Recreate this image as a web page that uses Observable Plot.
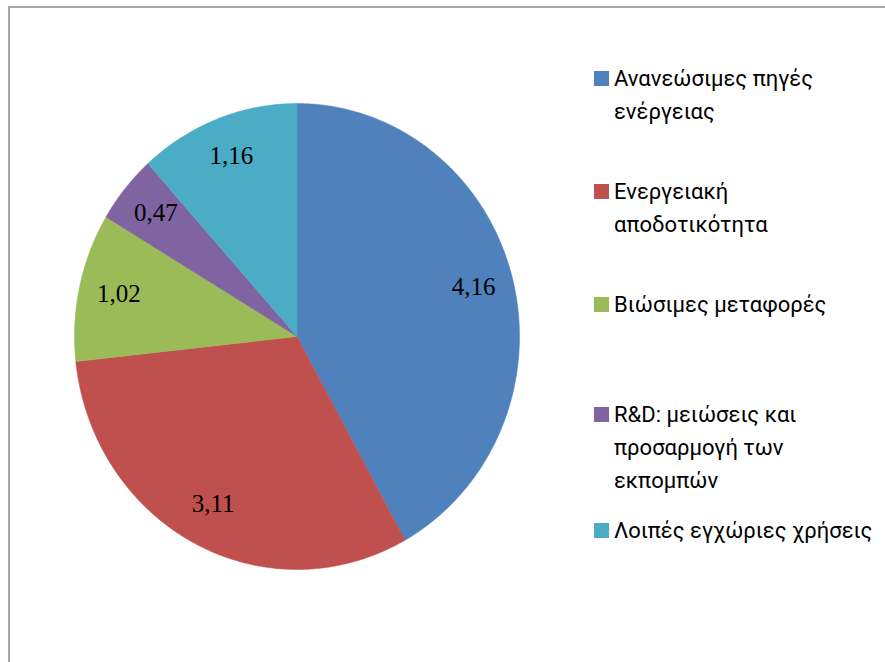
<!DOCTYPE html>
<html>
<head>
<meta charset="utf-8">
<script src="https://cdn.jsdelivr.net/npm/d3@7"></script>
<script src="https://cdn.jsdelivr.net/npm/@observablehq/plot@0.6"></script>
<style>
  html, body { margin: 0; padding: 0; background: #fff; overflow: hidden; width: 885px; height: 662px; }
  #wrap { position: relative; width: 885px; height: 662px; }
  #frame { position: absolute; left: 8px; top: 6px; width: 1000px; height: 1000px; border-left: 2px solid #a6a6a6; border-top: 2px solid #a6a6a6; }
  #chart { position: absolute; left: 0; top: 0; }
  .item { position: absolute; left: 594px; display: flex; align-items: flex-start; }
  .sw { width: 15px; height: 15px; margin-top: 9px; margin-right: 5px; flex: none; }
  .txt { font-family: Roboto, "Noto Sans", sans-serif; font-size: 22px; line-height: 33px; color: #000; white-space: pre-line; }
</style>
</head>
<body>
<div id="wrap">
  <div id="frame"></div>
  <div id="chart"></div>
</div>
<script>
const categories = [
  "Ανανεώσιμες πηγές\nενέργειας",
  "Ενεργειακή\nαποδοτικότητα",
  "Βιώσιμες μεταφορές",
  "R&D: μειώσεις και\nπροσαρμογή των\nεκπομπών",
  "Λοιπές εγχώριες χρήσεις"
];
const values = [4.16, 3.11, 1.02, 0.47, 1.16];
const colors = ["#4f81bd", "#c0504d", "#9bbb59", "#8064a2", "#4bacc6"];

const data = categories.map((c, i) => ({cat: c, value: values[i], color: colors[i]}));
const arcs = d3.pie().value(d => d.value).sort(null)(data);

// polygon points for each slice (angle measured clockwise from top)
const pts = [];
arcs.forEach((a, i) => {
  pts.push({k: i, x: 0, y: 0, color: a.data.color});
  const n = Math.max(2, Math.ceil((a.endAngle - a.startAngle) / (Math.PI / 360)));
  for (let j = 0; j <= n; j++) {
    const t = a.startAngle + (a.endAngle - a.startAngle) * j / n;
    pts.push({k: i, x: Math.sin(t), y: Math.cos(t), color: a.data.color});
  }
  pts.push({k: i, x: 0, y: 0, color: a.data.color});
});
const labels = arcs.map(a => {
  const m = (a.startAngle + a.endAngle) / 2;
  return {x: 0.82 * Math.sin(m), y: 0.82 * Math.cos(m), text: String(a.data.value.toFixed(2)).replace(".", ",")};
});

const plot = Plot.plot({
  width: 885,
  height: 662,
  x: {domain: [-1, 1], range: [74, 519], axis: null},
  y: {domain: [-1, 1], range: [569, 103], axis: null},
  style: {background: "transparent"},
  marks: [
    Plot.line(pts, {x: "x", y: "y", z: "k", fill: d => d.color, stroke: d => d.color, strokeWidth: 0.5, curve: "linear"}),
    Plot.text(labels, {x: "x", y: "y", text: "text", fontFamily: "Liberation Serif, Times New Roman, serif", fontSize: 25, fill: "#000", dy: -2})
  ]
});
document.getElementById("chart").appendChild(plot);

const tops = [62, 175, 288, 398, 514];
const wrap = document.getElementById("wrap");
data.forEach((d, i) => {
  const it = document.createElement("div");
  it.className = "item";
  it.style.top = tops[i] + "px";
  const sw = document.createElement("div");
  sw.className = "sw";
  sw.style.background = d.color;
  const tx = document.createElement("div");
  tx.className = "txt";
  tx.textContent = d.cat;
  it.appendChild(sw);
  it.appendChild(tx);
  wrap.appendChild(it);
});
</script>
</body>
</html>
